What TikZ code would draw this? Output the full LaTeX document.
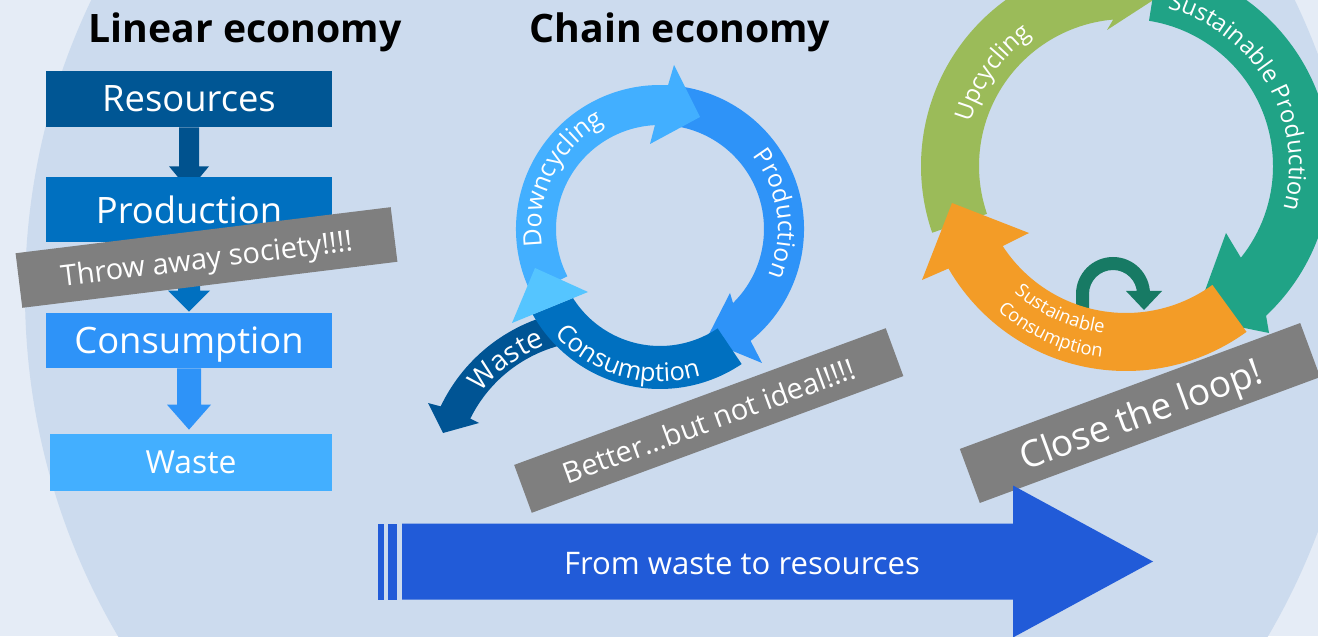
\documentclass[tikz,border=0pt]{standalone}
\usepackage{fontspec}
\setmainfont{Open Sans}
\usetikzlibrary{calc,decorations.text}
\definecolor{bgout}{HTML}{E5ECF6}
\definecolor{bgin}{HTML}{CCDBEE}
\definecolor{resC}{HTML}{005694}
\definecolor{arrOneC}{HTML}{00528E}
\definecolor{prodC}{HTML}{0070C0}
\definecolor{consC}{HTML}{2E93F8}
\definecolor{wasteC}{HTML}{43AFFF}
\definecolor{grayC}{HTML}{7F7F7F}
\definecolor{downC}{HTML}{42AFFF}
\definecolor{cyanC}{HTML}{55C5FF}
\definecolor{wastearcC}{HTML}{005494}
\definecolor{greenC}{HTML}{9BBB59}
\definecolor{tealC}{HTML}{20A386}
\definecolor{orangeC}{HTML}{F39C27}
\definecolor{dtealC}{HTML}{177A64}
\definecolor{bigC}{HTML}{215BD8}
\begin{document}
\begin{tikzpicture}[x=0.02cm,y=0.02cm,
  box/.style={rectangle, inner sep=0pt, text=white, text depth=0pt, font=\fontsize{20.7}{24}\selectfont},
  banner/.style={rectangle, fill=grayC, inner sep=0pt, text=white, text depth=0pt, font=\fontsize{16.5}{20}\selectfont},
  title/.style={font=\bfseries\fontsize{22.3}{26}\selectfont, text=black, inner sep=0pt, anchor=base}]
\useasboundingbox (0,0) rectangle (1318,636);
\clip (0,0) rectangle (1318,636);
\fill[bgout] (0,0) rectangle (1318,636);
\fill[bgin] (693,343) ellipse[x radius=668, y radius=674];

% titles
\node[title] (t1) at (245,593) {Linear economy};
\node[title] (t2) at (680,593) {Chain economy};

% linear economy
\node[box, fill=resC, minimum width=5.72cm, minimum height=1.12cm] (res) at (189,537) {Resources};
\coordinate (a1) at (res.south);
\fill[arrOneC] ($(a1)+(-10,0)$) -- ($(a1)+(-10,-39)$) -- ($(a1)+(-20,-39)$) -- ($(a1)+(0,-63)$) -- ($(a1)+(20,-39)$) -- ($(a1)+(10,-39)$) -- ($(a1)+(10,0)$) -- cycle;
\node[box, fill=prodC, minimum width=5.72cm, minimum height=1.3cm] (prod) at (189,426.5) {Production};
\node[box, fill=consC, minimum width=5.72cm, minimum height=1.1cm] (cons) at (189,295.5) {Consumption};
\fill[prodC] ($(prod.south)+(-11,0)$) -- ($(cons.north)+(-11,22)$) -- ($(cons.north)+(-21,22)$) -- ($(cons.north)+(0,1)$) -- ($(cons.north)+(21,22)$) -- ($(cons.north)+(11,22)$) -- ($(prod.south)+(11,0)$) -- cycle;
\node[box, fill=wasteC, minimum width=5.64cm, minimum height=1.14cm, font=\fontsize{18.1}{22}\selectfont] (waste) at (191,173.5) {Waste};
\fill[consC] ($(cons.south)+(-12,0)$) -- ($(cons.south |- waste.north)+(-12,29)$) -- ($(cons.south |- waste.north)+(-22,29)$) -- ($(cons.south |- waste.north)+(0,4)$) -- ($(cons.south |- waste.north)+(22,29)$) -- ($(cons.south |- waste.north)+(12,29)$) -- ($(cons.south)+(12,0)$) -- cycle;
\node[banner, rotate=7, minimum width=7.56cm, minimum height=1.1cm] (b1) at (206.5,378.5) {Throw away society!!!!};

% chain economy
\coordinate (C1) at (660,407);
\coordinate (CB) at (660,393);
\coordinate (CW) at (595,156);
\fill[consC] ($(C1)+(82:144)$) arc[start angle=82, end angle=-51, radius=144] -- (762,273) -- (706,296) -- (730,343) -- ($(C1)+(-45.4:104)$) arc[start angle=-45.4, end angle=82, radius=104] -- cycle;
\fill[downC] ($(C1)+(207:144)$) arc[start angle=207, end angle=86.8, radius=144] -- (674,571) -- (700,519) -- (650,492) -- ($(C1)+(92.8:104)$) arc[start angle=92.8, end angle=207, radius=104] -- cycle;
\fill[wastearcC] ($(CW)+(100:171)$) arc[start angle=100, end angle=154.5, radius=171] -- (428,233) -- (443,203) -- (479,213) -- ($(CW)+(153.8:139)$) arc[start angle=153.8, end angle=100, radius=139] -- cycle;
\fill[prodC] ($(CB)+(-56:146)$) arc[start angle=-56, end angle=-150.7, radius=146] -- ($(CB)+(-147.7:103)$) arc[start angle=-147.7, end angle=-56, radius=103] -- cycle;
\fill[cyanC] (535,368) -- (588,344) -- (512,313) -- cycle;
\path[decorate, decoration={text along path, text align=center, text={|\color{white}\fontsize{14.3}{16}\selectfont|Downcycling}}] ($(C1)+(220:119)$) arc[start angle=220, end angle=86, radius=119];
\path[decorate, decoration={text along path, text align=center, text={|\color{white}\fontsize{14}{16}\selectfont|Production}}] ($(C1)+(75:118)$) arc[start angle=75, end angle=-60, radius=118];
\path[decorate, decoration={text along path, text align=center, text={|\color{white}\fontsize{14.5}{16}\selectfont|Consumption}}] ($(CB)+(200:139)$) arc[start angle=200, end angle=308, radius=139];
\path[decorate, decoration={text along path, text align=center, text={|\color{white}\fontsize{16}{18}\selectfont|Waste}}] ($(CW)+(165:143)$) arc[start angle=165, end angle=88, radius=143];
\node[banner, rotate=20.2, minimum width=7.92cm, minimum height=1.02cm] (b2) at (708.75,215.5) {Better…but not ideal!!!!};

% circular economy
\coordinate (C2) at (1126,470);
\fill[greenC] ($(C2)+(199:205)$) arc[start angle=199, end angle=93, radius=205] -- (1114.5,689.7) -- (1162.6,642) -- (1107,606) -- ($(C2)+(95:147)$) arc[start angle=95, end angle=199, radius=147] -- cycle;
\fill[tealC] ($(C2)+(81:205)$) arc[start angle=81, end angle=-46.9, radius=205] -- (1269,303) -- (1195,318) -- (1226,403) -- ($(C2)+(-38.6:147)$) arc[start angle=-38.6, end angle=81, radius=147] -- cycle;
\fill[dtealC] (1076,310) -- (1076,342) arc[start angle=180, end angle=0, radius=37] -- (1150,345) -- (1162,345) -- (1144,326) -- (1126,345) -- (1137,345) -- (1137,342) arc[start angle=0, end angle=180, radius=24] -- (1089,310) -- cycle;
\fill[orangeC] ($(C2)+(-54:205)$) arc[start angle=-54, end angle=-150, radius=205] -- (922,356) -- (952,433) -- (1029,403) -- ($(C2)+(-147:147)$) arc[start angle=-147, end angle=-54, radius=147] -- cycle;
\path[decorate, decoration={text along path, text align=center, text={|\color{white}\fontsize{13.8}{16}\selectfont|Upcycling}}] ($(C2)+(200:161)$) arc[start angle=200, end angle=90, radius=161];
\path[decorate, decoration={text along path, text align=center, text={|\color{white}\fontsize{13.6}{16}\selectfont|Sustainable Production}}] ($(C2)+(102:163)$) arc[start angle=102, end angle=-42, radius=163];
\path[decorate, decoration={text along path, text align=center, text={|\color{white}\fontsize{10.5}{12}\selectfont|Sustainable}}] ($(C2)+(200:169)$) arc[start angle=200, end angle=291, radius=169];
\path[decorate, decoration={text along path, text align=center, text={|\color{white}\fontsize{10.5}{12}\selectfont|Consumption}}] ($(C2)+(200:193)$) arc[start angle=200, end angle=291, radius=193];
\node[banner, rotate=20.3, minimum width=7.26cm, minimum height=1.152cm, font=\fontsize{21}{25}\selectfont] (b3) at (1140,223) {Close the loop!};

% big arrow
\fill[bigC] (402,36.5) -- (1013,36.5) -- (1013,-1.5) -- (1153,74.5) -- (1013,150.5) -- (1013,112.5) -- (402,112.5) -- cycle;
\fill[bigC] (378,36.5) rectangle (383.5,112.5);
\fill[bigC] (387.7,36.5) rectangle (396.6,112.5);
\node[text=white, inner sep=0pt, text depth=0pt, font=\fontsize{17.7}{21}\selectfont] (bigtext) at (742,73) {From waste to resources};
\end{tikzpicture}
\end{document}
